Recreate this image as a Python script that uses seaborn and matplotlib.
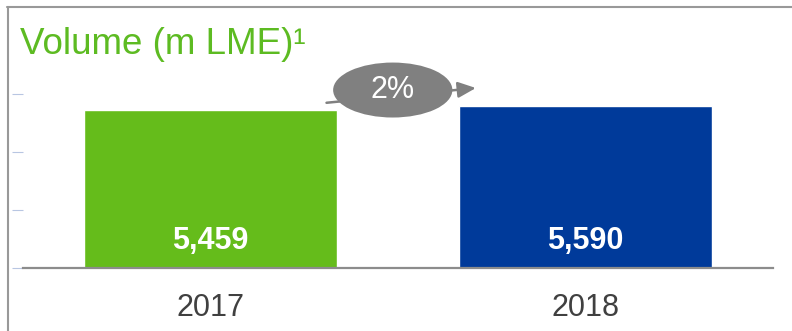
import matplotlib
matplotlib.use("Agg")
import matplotlib.pyplot as plt
import seaborn as sns
import pandas as pd
from matplotlib.patches import Ellipse
from matplotlib.lines import Line2D

years = ["2017", "2018"]
volumes = [5459, 5590]
value_labels = ["5,459", "5,590"]
bar_colors = ["#65BC1B", "#003A9A"]
growth_label = "2%"
title = "Volume (m LME)\u00b9"

sns.set_theme(style="white")
plt.rcParams["font.family"] = ["Liberation Sans", "DejaVu Sans"]

df = pd.DataFrame({"year": years, "volume": volumes})

fig = plt.figure(figsize=(7.92, 3.31), dpi=100)
ax = fig.add_axes([23 / 792, (331 - 268) / 331, 750 / 792, 173.6 / 331])

sns.barplot(data=df, x="year", y="volume", hue="year", palette=bar_colors,
            width=0.673, saturation=1, legend=False, ax=ax)

ax.set_xlim(-0.5, 1.5)
ax.set_ylim(0, 6000)
ax.set_yticks([0, 2000, 4000, 6000])
ax.set_yticklabels([])
ax.set_xlabel("")
ax.set_ylabel("")
for s in ["top", "right", "left"]:
    ax.spines[s].set_visible(False)
ax.spines["bottom"].set_color("#8C8C8C")
ax.spines["bottom"].set_linewidth(1.6)
ax.tick_params(axis="y", direction="out", length=8, width=0.8, color="#B8C6E2", left=True)
ax.tick_params(axis="x", length=0, pad=18, labelsize=22, labelcolor="#404040")

for i, (v, lab) in enumerate(zip(volumes, value_labels)):
    ax.text(i, 920, lab, ha="center", va="center", color="white",
            fontsize=22, fontweight="bold")

# growth arrow + ellipse
ax.annotate("", xy=(0.715, 6230), xytext=(0.302, 5701),
            arrowprops=dict(arrowstyle="-|>,head_length=0.9,head_width=0.4",
                            color="#808080", lw=1.8),
            annotation_clip=False, zorder=4)
ell = Ellipse((0.486, 6151), 0.318, 1900, facecolor="#808080",
              edgecolor="none", clip_on=False, zorder=5)
ax.add_patch(ell)
ax.text(0.486, 6150, growth_label, ha="center", va="center", color="white",
        fontsize=22, zorder=6, clip_on=False)

fig.text(20 / 792, 1 - 45 / 331, title, color="#5DBB22", fontsize=26.5,
         ha="left", va="center")

# frame lines
fig.add_artist(Line2D([7 / 792, 1], [1 - 7 / 331, 1 - 7 / 331],
                      transform=fig.transFigure, color="#999999", lw=1.5))
fig.add_artist(Line2D([8 / 792, 8 / 792], [0, 1 - 7 / 331],
                      transform=fig.transFigure, color="#999999", lw=1.5))

fig.savefig("out.png", dpi=100)
